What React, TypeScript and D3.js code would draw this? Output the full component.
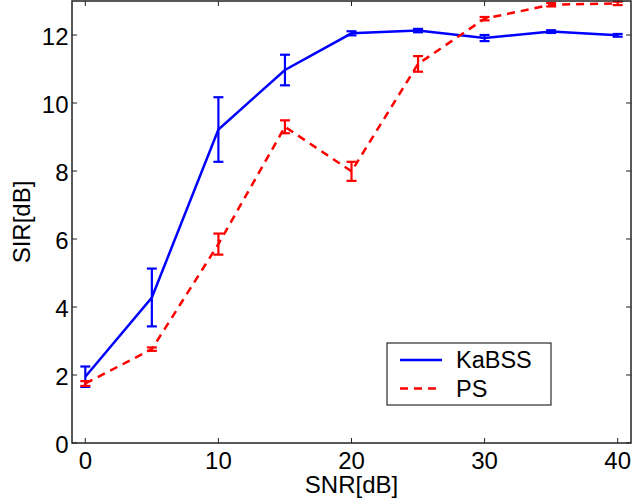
import React from "react";
import * as d3 from "d3";

const snr = [0, 5, 10, 15, 20, 25, 30, 35, 40];
const kabssMean = [1.95, 4.28, 9.22, 10.97, 12.05, 12.13, 11.91, 12.1, 11.99];
const kabssErr = [0.3, 0.85, 0.95, 0.45, 0.06, 0.05, 0.09, 0.04, 0.04];
const psMean = [1.75, 2.76, 5.85, 9.3, 7.99, 11.15, 12.48, 12.89, 12.93];
const psErr = [0.07, 0.05, 0.31, 0.19, 0.28, 0.23, 0.05, 0.05, 0.05];
const xTicks = [0, 10, 20, 30, 40];
const yTicks = [0, 2, 4, 6, 8, 10, 12];
const seriesNames = ["KaBSS", "PS"];

const W = 640, H = 499;
const L = 72, R = 631, T = 1, B = 443;
const FONT = "Liberation Sans, Arial, Helvetica, sans-serif";
const FS = 24;

export default function App() {
  const x = d3.scaleLinear().domain([-1, 41]).range([L, R]);
  const y = d3.scaleLinear().domain([0, 13]).range([B, T]);
  const line = d3.line<number>().x((_, i) => x(snr[i])).y((d) => y(d));

  const series = [
    { name: seriesNames[0], mean: kabssMean, err: kabssErr, color: "#0000ff", dash: undefined as string | undefined },
    { name: seriesNames[1], mean: psMean, err: psErr, color: "#ff0000", dash: "8,6" },
  ];
  const tl = 5;
  const cap = 5;

  return (
    <svg width={W} height={H} style={{ position: "absolute", left: 0, top: 0, background: "#fff" }} fontFamily={FONT}>
      <rect x={0} y={0} width={W} height={H} fill="#fff" />
      {xTicks.map((t) => (
        <g key={"x" + t}>
          <line x1={x(t)} x2={x(t)} y1={B} y2={B - tl} stroke="#222" strokeWidth={1} />
          <line x1={x(t)} x2={x(t)} y1={T} y2={T + tl} stroke="#222" strokeWidth={1} />
          <text x={x(t)} y={468.5} fontSize={FS} textAnchor="middle" fill="#000">{t}</text>
        </g>
      ))}
      {yTicks.map((t) => (
        <g key={"y" + t}>
          <line x1={L} x2={L + tl} y1={y(t)} y2={y(t)} stroke="#222" strokeWidth={1} />
          <line x1={R} x2={R - tl} y1={y(t)} y2={y(t)} stroke="#222" strokeWidth={1} />
          <text x={68.5} y={y(t) + 9.5} fontSize={FS} textAnchor="end" fill="#000">{t}</text>
        </g>
      ))}
      {series.map((s) => (
        <g key={s.name}>
          <path d={line(s.mean) || ""} fill="none" stroke={s.color} strokeWidth={2.5} strokeDasharray={s.dash} />
          {s.mean.map((m, i) => {
            const cx = x(snr[i]);
            const y1 = y(m + s.err[i]);
            const y2 = y(m - s.err[i]);
            return (
              <g key={i} stroke={s.color} strokeWidth={2.2}>
                <line x1={cx} x2={cx} y1={y1} y2={y2} />
                <line x1={cx - cap} x2={cx + cap} y1={y1} y2={y1} />
                <line x1={cx - cap} x2={cx + cap} y1={y2} y2={y2} />
              </g>
            );
          })}
        </g>
      ))}
      <rect x={L} y={T} width={R - L} height={B - T} fill="none" stroke="#222" strokeWidth={1.5} />
      <text x={(L + R) / 2} y={493} fontSize={FS} textAnchor="middle" fill="#000">SNR[dB]</text>
      <text transform={`translate(30,${(T + B) / 2}) rotate(-90)`} fontSize={FS} textAnchor="middle" fill="#000">SIR[dB]</text>
      <rect x={387} y={343} width={164} height={62} fill="#fff" stroke="#000" strokeWidth={1} />
      {series.map((s, i) => {
        const ly = 360 + i * 28.5;
        return (
          <g key={"lg" + s.name}>
            <line x1={400} x2={442} y1={ly} y2={ly} stroke={s.color} strokeWidth={2.5} strokeDasharray={s.dash} />
            <text x={456} y={ly + 8.4} fontSize={23.5} fill="#000">{s.name}</text>
          </g>
        );
      })}
    </svg>
  );
}
